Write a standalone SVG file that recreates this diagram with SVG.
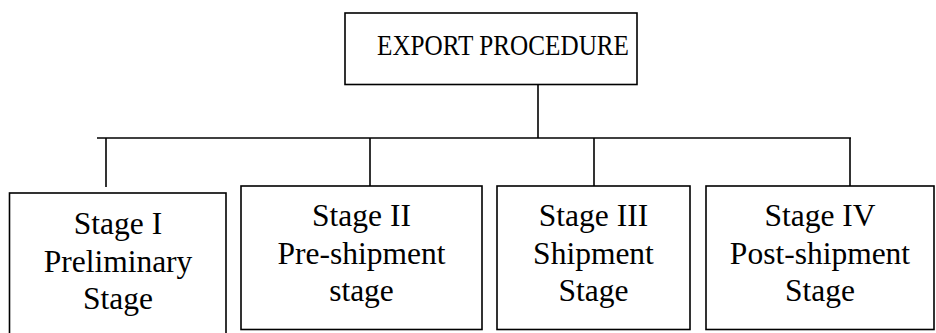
<svg xmlns="http://www.w3.org/2000/svg" width="936" height="333" viewBox="0 0 936 333">
<style>
.box{fill:#fff;stroke:#000;stroke-width:1.6}
.ln{stroke:#000;stroke-width:1.6;fill:none}
text{font-family:"Liberation Serif","Times New Roman",serif;font-size:31.5px;fill:#000;text-anchor:middle}
.title{font-size:29px;text-anchor:start}
</style>
<rect width="936" height="333" fill="#fff"/>
<g id="connectors">
<line class="ln" x1="538" y1="84.5" x2="538" y2="138"/>
<line class="ln" x1="97" y1="138" x2="851" y2="138"/>
<line class="ln" x1="106" y1="138" x2="106" y2="187"/>
<line class="ln" x1="370" y1="138" x2="370" y2="186"/>
<line class="ln" x1="594" y1="138" x2="594" y2="186"/>
<line class="ln" x1="850" y1="138" x2="850" y2="186"/>
</g>
<g id="export-procedure">
<rect class="box" x="345" y="13" width="292" height="71.5"/>
<text class="title" x="377" y="54.5" textLength="252" lengthAdjust="spacingAndGlyphs">EXPORT PROCEDURE</text>
</g>
<g id="stage1">
<rect class="box" x="9.5" y="193" width="216.5" height="150"/>
<text x="118" y="234">Stage I</text>
<text x="118" y="271.5">Preliminary</text>
<text x="118" y="308.5">Stage</text>
</g>
<g id="stage2">
<rect class="box" x="241" y="186" width="241" height="143.5"/>
<text x="361.5" y="226">Stage II</text>
<text x="361.5" y="264">Pre-shipment</text>
<text x="361.5" y="300.5">stage</text>
</g>
<g id="stage3">
<rect class="box" x="497" y="186" width="193" height="143.5"/>
<text x="593.5" y="226">Stage III</text>
<text x="593.5" y="264">Shipment</text>
<text x="593.5" y="300.5">Stage</text>
</g>
<g id="stage4">
<rect class="box" x="706" y="186" width="228" height="143.5"/>
<text x="820" y="226">Stage IV</text>
<text x="820" y="264">Post-shipment</text>
<text x="820" y="300.5">Stage</text>
</g>
</svg>
